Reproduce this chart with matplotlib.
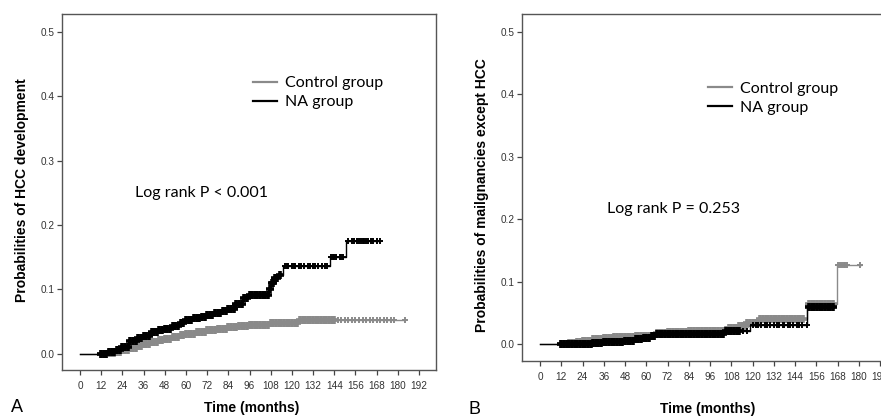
import numpy as np
import matplotlib
matplotlib.use("Agg")
import matplotlib.pyplot as plt

# ---------------- data ----------------
series_names = ["Control group", "NA group"]
x_ticks = list(range(0, 193, 12))
y_ticks = [0.0, 0.1, 0.2, 0.3, 0.4, 0.5]

# Panel A: HCC development
a_ctrl_t = [0, 12, 16, 20, 24, 28, 32, 36, 40, 44, 48, 52, 56, 60, 66, 72, 78, 84, 90, 96, 102, 108, 114, 120, 124, 184]
a_ctrl_p = [0, 0, 0.001, 0.003, 0.006, 0.009, 0.012, 0.015, 0.018, 0.021, 0.023, 0.026, 0.029, 0.031, 0.034, 0.037, 0.039, 0.041, 0.043, 0.044, 0.045, 0.047, 0.048, 0.048, 0.052, 0.052]
a_ctrl_cens = [12, 13.5, 15, 16.5, 18, 19.5, 21, 22.5, 24, 25.5, 27, 28.5, 30, 31.5, 33, 34.5, 36, 37.5, 39, 40.5,
               42, 43.5, 45, 46.5, 48, 49.5, 51, 52.5, 54, 55.5, 57, 58.5, 60, 61.5, 63, 64.5, 66, 67.5, 69, 70.5,
               72, 73.5, 75, 76.5, 78, 79.5, 81, 82.5, 84, 85.5, 87, 88.5, 90, 91.5, 93, 94.5, 96, 97.5, 99, 100.5,
               102, 103.5, 105, 106.5, 108, 109.5, 111, 112.5, 114, 115.5, 117, 118.5, 120, 121.5, 123, 124.5,
               126, 127.5, 129, 130.5, 132, 133.5, 135, 136.5, 138, 139.5, 141, 142.5, 144]
a_ctrl_tail = [146, 148, 150, 152, 154, 156, 158, 160, 162, 164, 166, 168, 170, 172, 174, 176, 178, 184]

a_na_t = [0, 12, 16, 20, 24, 28, 32, 36, 40, 44, 48, 52, 56, 60, 64, 68, 72, 76, 80, 84, 88, 92, 95, 106, 107, 108, 110, 112, 115, 141.5, 150.5, 170]
a_na_p = [0, 0, 0.002, 0.006, 0.010, 0.020, 0.025, 0.028, 0.033, 0.037, 0.039, 0.043, 0.047, 0.052, 0.055, 0.057, 0.060, 0.063, 0.066, 0.070, 0.078, 0.087, 0.091, 0.091, 0.100, 0.110, 0.118, 0.123, 0.136, 0.151, 0.175, 0.175]
a_na_cens = [12, 13.5, 15, 16.5, 18, 19.5, 21, 22.5, 24, 25.5, 27, 28.5, 30, 31.5, 33, 34.5, 36, 37.5, 39, 40.5,
             42, 43.5, 45, 46.5, 48, 49.5, 51, 52.5, 54, 55.5, 57, 58.5, 60, 61.5, 63, 64.5, 66, 67.5, 69, 70.5,
             72, 73.5, 75, 76.5, 78, 79.5, 81, 82.5, 84, 85.5, 87, 88.5, 90, 91.5, 93, 94.5, 96, 97.5, 99, 100.5,
             102, 103.5, 105, 106.5, 107.5, 108.5, 109.5, 110.5, 111.5, 113]
a_na_tail = [116, 117, 118, 120, 121, 122, 124, 125, 127, 129, 130, 132, 133, 135, 137, 139, 140, 142, 143, 144,
             145, 147, 148, 149, 152, 154, 155, 157, 158, 159, 160, 161, 162, 163, 165, 166, 168, 170]

# Panel B: malignancies except HCC
b_ctrl_t = [0, 12, 16, 20, 24, 30, 36, 42, 48, 54, 60, 66, 72, 84, 96, 104, 106, 112, 116, 124, 151, 167.5, 181]
b_ctrl_p = [0, 0, 0.002, 0.004, 0.006, 0.008, 0.010, 0.011, 0.012, 0.013, 0.014, 0.018, 0.020, 0.021, 0.022, 0.023, 0.026, 0.029, 0.034, 0.041, 0.064, 0.127, 0.127]
b_ctrl_cens = [12, 13.5, 15, 16.5, 18, 19.5, 21, 22.5, 24, 25.5, 27, 28.5, 30, 31.5, 33, 34.5, 36, 37.5, 39, 40.5,
               42, 43.5, 45, 46.5, 48, 49.5, 51, 52.5, 54, 55.5, 57, 58.5, 60, 61.5, 63, 64.5, 66, 67.5, 69, 70.5,
               72, 73.5, 75, 76.5, 78, 79.5, 81, 82.5, 84, 85.5, 87, 88.5, 90, 91.5, 93, 94.5, 96, 97.5, 99, 100.5,
               102, 103.5, 105, 106.5, 108, 109.5, 111, 112.5, 114, 115.5, 117, 118.5, 120, 121.5, 123, 124.5,
               126, 127.5, 129, 130.5, 132, 133.5, 135, 136.5, 138, 139.5, 141, 142.5, 144, 145.5, 147, 148.5,
               152, 153.5, 155, 156.5, 158, 159.5, 161, 162.5, 164, 165.5]
b_ctrl_tail = [168.5, 169.5, 170.5, 171.5, 172.5, 173.5, 180.5]

b_na_t = [0, 12, 20, 30, 36, 42, 48, 54, 58, 62, 66, 104, 105, 118.5, 151, 166.5]
b_na_p = [0, 0, 0.001, 0.002, 0.003, 0.004, 0.006, 0.008, 0.010, 0.013, 0.016, 0.016, 0.022, 0.031, 0.059, 0.059]
b_na_cens = [12, 13.5, 15, 16.5, 18, 19.5, 21, 22.5, 24, 25.5, 27, 28.5, 30, 31.5, 33, 34.5, 36, 37.5, 39, 40.5,
             42, 43.5, 45, 46.5, 48, 49.5, 51, 52.5, 54, 55.5, 57, 58.5, 60, 61.5, 63, 64.5, 66, 67.5, 69, 70.5,
             72, 73.5, 75, 76.5, 78, 79.5, 81, 82.5, 84, 85.5, 87, 88.5, 90, 91.5, 93, 94.5, 96, 97.5, 99, 100.5,
             102, 103.5, 105, 106.5, 108, 109.5, 111, 112.5, 152, 153.5, 155, 156.5, 158, 159.5, 161, 162.5, 164, 165.5]
b_na_tail = [114.5, 117, 120, 122, 123, 125, 127, 128, 130, 132, 134, 135, 137, 138, 140, 141, 143, 145, 146,
             148, 150.5]

CTRL_COLOR = "#8a8a8a"
NA_COLOR = "#000000"

W, H = 881, 417
fig = plt.figure(figsize=(W / 100, H / 100), dpi=100)
fig.patch.set_facecolor("white")

tick_font = ["Liberation Sans", "DejaVu Sans"]
label_font = ["Liberation Sans", "DejaVu Sans"]
note_font = ["Lato", "DejaVu Sans"]


def px_axes(x0, y_top, x1, y_bot):
    return [x0 / W, 1 - y_bot / H, (x1 - x0) / W, (y_bot - y_top) / H]


def step_value(t_list, p_list, tq):
    t_arr = np.asarray(t_list)
    p_arr = np.asarray(p_list)
    idx = np.searchsorted(t_arr, tq, side="right") - 1
    idx = np.clip(idx, 0, len(p_arr) - 1)
    return p_arr[idx]


def draw_panel(ax, curves, ylim, xlim):
    for (t, p, cens, tail, color, name) in curves:
        ax.plot(t, p, drawstyle="steps-post", color=color, lw=1.0, label=name)
        ax.plot(cens, step_value(t, p, cens), linestyle="none", marker="+",
                markersize=5.8, markeredgewidth=2.6, color=color)
        ax.plot(tail, step_value(t, p, tail), linestyle="none", marker="+",
                markersize=4.6, markeredgewidth=1.4, color=color)
    ax.set_xlim(*xlim)
    ax.set_ylim(*ylim)
    ax.set_xticks(x_ticks)
    ax.set_xticklabels([str(v) for v in x_ticks])
    ax.set_yticks(y_ticks)
    ax.set_yticklabels([f"{v:.1f}" for v in y_ticks])
    ax.tick_params(axis="both", direction="out", length=3.5, width=0.9, colors="#444444",
                   labelsize=7.2, labelcolor="#333333")
    ax.tick_params(axis="x", pad=4.5)
    ax.tick_params(axis="y", pad=2)
    for lab in ax.get_xticklabels() + ax.get_yticklabels():
        lab.set_family(tick_font)
    for s in ax.spines.values():
        s.set_color("#555555")
        s.set_linewidth(1.0)


# ---- Panel A ----
axA = fig.add_axes(px_axes(62, 14, 436, 370))
draw_panel(axA,
           [(a_ctrl_t, a_ctrl_p, a_ctrl_cens, a_ctrl_tail, CTRL_COLOR, series_names[0]),
            (a_na_t, a_na_p, a_na_cens, a_na_tail, NA_COLOR, series_names[1])],
           (-0.0253, 0.528), (-10.2, 201.6))

# ---- Panel B ----
axB = fig.add_axes(px_axes(522, 14, 897, 361))
draw_panel(axB,
           [(b_ctrl_t, b_ctrl_p, b_ctrl_cens, b_ctrl_tail, CTRL_COLOR, series_names[0]),
            (b_na_t, b_na_p, b_na_cens, b_na_tail, NA_COLOR, series_names[1])],
           (-0.0267, 0.5285), (-10.2, 201.6))

# legends
for ax, anchor in [(axA, (0.512, 0.826)), (axB, (0.497, 0.805))]:
    leg = ax.legend(loc="upper left", bbox_to_anchor=anchor, frameon=False,
                    prop={"family": note_font, "size": 11.5},
                    handlelength=1.45, handletextpad=0.55, labelspacing=0.3,
                    borderpad=0, borderaxespad=0)
    for line in leg.get_lines():
        line.set_linewidth(1.6)

axA.text(0.195, 0.497, "Log rank P < 0.001", transform=axA.transAxes, va="center", ha="left",
         family=note_font, fontsize=11.5)
axB.text(0.227, 0.438, "Log rank P = 0.253", transform=axB.transAxes, va="center", ha="left",
         family=note_font, fontsize=11.5)

# axis labels and panel letters
fig.text(252 / W, 1 - 408 / H, "Time (months)", ha="center", va="center",
         family=label_font, fontweight="bold", fontsize=10)
fig.text(708 / W, 1 - 409 / H, "Time (months)", ha="center", va="center",
         family=label_font, fontweight="bold", fontsize=10)
fig.text(22 / W, 1 - 190 / H, "Probabilities of HCC development", ha="center", va="center",
         rotation=90, family=label_font, fontweight="bold", fontsize=10)
fig.text(482 / W, 1 - 195 / H, "Probabilities of mailgnancies except HCC", ha="center", va="center",
         rotation=90, family=label_font, fontweight="bold", fontsize=10)
fig.text(17 / W, 1 - 408 / H, "A", ha="center", va="center", family=label_font, fontsize=13)
fig.text(475 / W, 1 - 409 / H, "B", ha="center", va="center", family=label_font, fontsize=13)

fig.savefig("out.png", dpi=100, facecolor="white")
